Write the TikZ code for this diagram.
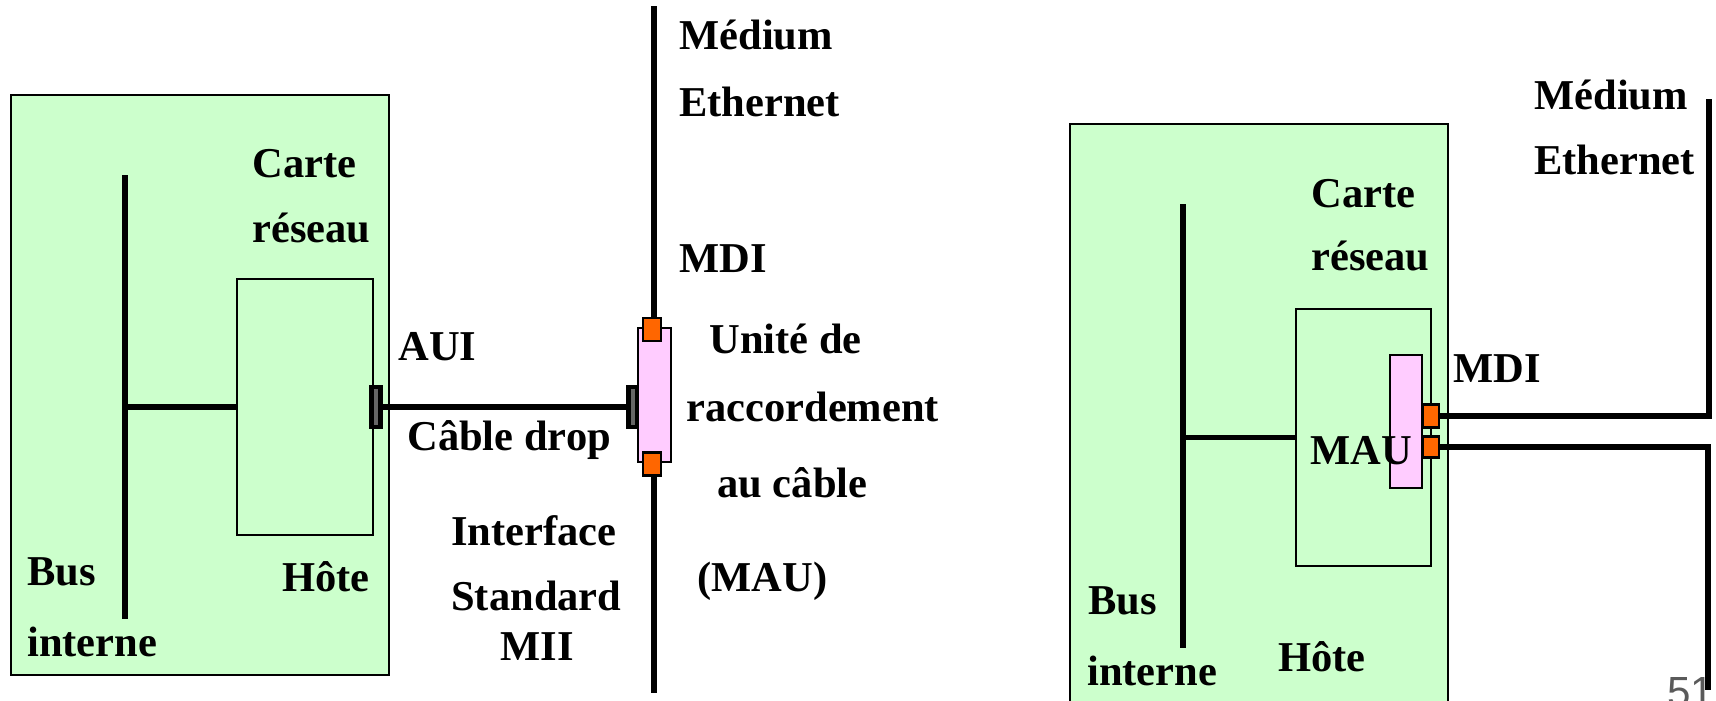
\documentclass[tikz,border=0pt]{standalone}
\usepackage{fontspec}
\setmainfont{Liberation Serif}
\setsansfont{Liberation Sans}

\definecolor{cartevert}{HTML}{CCFFCC}
\definecolor{maurose}{HTML}{FFCCFF}
\definecolor{mdiorange}{HTML}{FF6600}
\definecolor{numgris}{HTML}{5A5A5A}

\tikzset{
  txt/.style={font=\fontsize{24.2}{29}\selectfont\bfseries, anchor=base west, inner sep=0pt},
  hote/.style={draw, fill=cartevert, line width=1.6pt, inner sep=0pt},
  carte/.style={draw, line width=1.6pt, inner sep=0pt},
  mau/.style={draw, fill=maurose, line width=1.4pt, inner sep=0pt},
  mdi/.style={draw, fill=mdiorange, line width=1.2pt, inner sep=0pt},
  prise/.style={draw, fill=gray!80!black, line width=2.4pt, minimum width=0.18cm, minimum height=0.8cm, inner sep=0pt},
  fil/.style={line width=3.2pt},
}

\begin{document}
\begin{tikzpicture}[x=0.02cm, y=-0.02cm]
      \useasboundingbox (0,0) rectangle (1716,700);

      % gauche : carte reseau reliee par cable drop
      \node[hote, minimum width=7.56cm, minimum height=11.6cm] (hoteL) at (200,385) {};
      \node[carte, minimum width=2.72cm, minimum height=5.12cm] (carteL) at (305,407) {};
      \coordinate (busLh) at (125,175);
      \coordinate (busLb) at (125,619);
      \draw[fil] (busLh) -- (busLb);
      \draw[fil] (busLh |- carteL.west) -- (carteL.west);
      \node[prise] (auiL) at (376,407) {};
      \node[prise] (dropL) at (633,407) {};
      \draw[fil] (auiL.east) -- (dropL.west);

      \coordinate (medLh) at (654,6);
      \coordinate (medLb) at (654,693);
      \draw[fil] (medLh) -- (medLb);
      \node[mau, minimum width=0.66cm, minimum height=2.68cm] (mauL) at (654.5,395) {};
      \node[mdi, minimum width=0.36cm, minimum height=0.46cm] (mdiLh) at (652,329.5) {};
      \node[mdi, minimum width=0.36cm, minimum height=0.46cm] (mdiLb) at (652,464) {};

      \node[txt] (medL) at (679,49) {Médium};
      \node[txt] (ethL) at (679,116) {Ethernet};
      \node[txt] (mdiLt) at (679,272) {MDI};
      \node[txt] (unite) at (709,353) {Unité de};
      \node[txt] (racc) at (686,421) {raccordement};
      \node[txt] (auc) at (717,497) {au câble};
      \node[txt] (mauLt) at (697,591) {(MAU)};
      \node[txt] (interf) at (451,545) {Interface};
      \node[txt] (stand) at (451,610) {Standard};
      \node[txt] (mii) at (500,660) {MII};
      \node[txt] (auiLt) at (398,360) {AUI};
      \node[txt] (drop) at (407,450) {Câble drop};
      \node[txt] (carteLt) at (252,177) {Carte};
      \node[txt] (reseauL) at (252,242) {réseau};
      \node[txt] (busL) at (27,585) {Bus};
      \node[txt] (intL) at (27,656) {interne};
      \node[txt] (hoteLt) at (282,591) {Hôte};

      % droite : MAU integre a la carte
      \node[hote, minimum width=7.56cm, minimum height=11.8cm] (hoteR) at (1259,419) {};
      \node[carte, minimum width=2.7cm, minimum height=5.14cm] (carteR) at (1363.5,437.5) {};
      \coordinate (busRh) at (1183,204);
      \coordinate (busRb) at (1183,648);
      \draw[fil] (busRh) -- (busRb);
      \draw[fil] (busRh |- carteR.west) -- (carteR.west);
      \node[mau, minimum width=0.64cm, minimum height=2.66cm] (mauR) at (1406,421.5) {};
      \node[mdi, minimum width=0.32cm, minimum height=0.46cm] (mdiRh) at (1431,416) {};
      \node[mdi, minimum width=0.32cm, minimum height=0.42cm] (mdiRb) at (1431,447) {};
      \coordinate (medRh) at (1709,99);
      \coordinate (medRb) at (1708,690);
      \draw[fil] (mdiRh.east) -| (medRh);
      \draw[fil] (mdiRb.east) -| (medRb);

      \node[txt] (medR) at (1534,109) {Médium};
      \node[txt] (ethR) at (1534,174) {Ethernet};
      \node[txt] (carteRt) at (1311,207) {Carte};
      \node[txt] (reseauR) at (1311,270) {réseau};
      \node[txt] (mdiRt) at (1453,382) {MDI};
      \node[txt] (mauRt) at (1310,464) {MAU};
      \node[txt] (busR) at (1088,614) {Bus};
      \node[txt] (intR) at (1087,685) {interne};
      \node[txt] (hoteRt) at (1278,671) {Hôte};

      \node[txt, font=\fontsize{24}{29}\sffamily, text=numgris] (page) at (1667,706) {51};
    \end{tikzpicture}
\end{document}
